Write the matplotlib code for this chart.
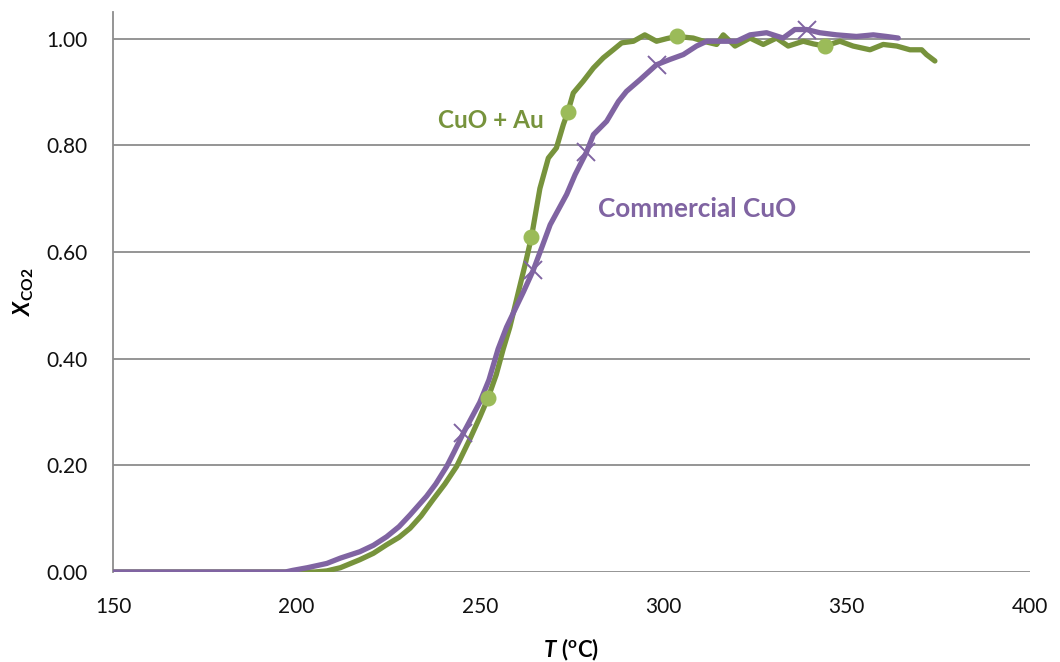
import matplotlib.pyplot as plt
import numpy as np

plt.rcParams['font.family'] = ['Lato', 'DejaVu Sans']
# axis titles are bold throughout, so the mathtext roman face is bold too
plt.rcParams['mathtext.fontset'] = 'custom'
plt.rcParams['mathtext.rm'] = 'Lato:bold'
plt.rcParams['mathtext.bf'] = 'Lato:bold'
plt.rcParams['mathtext.it'] = 'Lato:bold:italic'
plt.rcParams['mathtext.bfit'] = 'Lato:bold:italic'

# CuO + Au light-off curve
au_t = [150, 170, 190, 200, 205, 208.3, 212, 217.3, 221, 224.6, 228, 231, 234, 237.3,
        240.5, 243.7, 247.3, 250, 252.3, 254.5, 256.4, 258.2, 261, 262.5, 264.1, 266.4,
        268.7, 270.9, 272.8, 274, 275.5, 278.2, 281, 283.7, 286.4, 288.7, 291.9, 295,
        298.2, 301, 303.7, 308.2, 311, 314.6, 316.4, 319.6, 323.7, 327.3, 330.9, 334.1,
        338.2, 341, 344.1, 348.2, 351.8, 356.4, 360, 363.7, 367.3, 370.5, 371.8, 374.1]
au_x = [0.0, 0.0, 0.0, 0.0, 0.0, 0.002, 0.008, 0.023, 0.035, 0.051, 0.065, 0.082, 0.105,
        0.136, 0.165, 0.198, 0.249, 0.29, 0.327, 0.37, 0.418, 0.459, 0.538, 0.58, 0.628,
        0.719, 0.776, 0.795, 0.839, 0.862, 0.898, 0.920, 0.945, 0.964, 0.979, 0.992,
        0.995, 1.007, 0.995, 1.0, 1.004, 1.001, 0.995, 0.989, 1.007, 0.986, 1.001, 0.989,
        1.001, 0.986, 0.995, 0.99, 0.986, 0.995, 0.986, 0.979, 0.989, 0.986, 0.979,
        0.979, 0.970, 0.958]

# commercial CuO light-off curve
cu_t = [150, 170, 190, 197, 199, 203, 208.3, 212, 217.3, 221, 224.6, 228, 231, 235.5,
        238, 241, 243, 245.5, 250, 252.5, 255, 257.3, 261.9, 264.6, 267, 269.2, 273.7,
        276, 279.1, 281, 284.6, 287.8, 290, 293.7, 298.2, 301.9, 305.5, 309.1, 311.9,
        316.4, 320, 323.7, 328.2, 332.7, 335.9, 339.1, 342.7, 347.3, 352.7, 357.3, 360.9,
        364.1]
cu_x = [0.0, 0.0, 0.0, 0.0, 0.003, 0.008, 0.016, 0.026, 0.038, 0.05, 0.066, 0.085,
        0.107, 0.142, 0.165, 0.198, 0.225, 0.26, 0.318, 0.36, 0.418, 0.459, 0.525, 0.566,
        0.61, 0.651, 0.708, 0.745, 0.787, 0.820, 0.845, 0.882, 0.901, 0.923, 0.951, 0.961,
        0.970, 0.986, 0.995, 0.995, 0.995, 1.007, 1.011, 1.001, 1.017, 1.017, 1.011,
        1.007, 1.004, 1.007, 1.004, 1.001]

# marker positions on each curve
au_mark_t = [252.3, 264.1, 274.0, 303.7, 344.1]
au_mark_x = [0.327, 0.628, 0.862, 1.004, 0.986]
cu_mark_t = [245.5, 264.6, 279.1, 298.2, 339.1]
cu_mark_x = [0.260, 0.566, 0.787, 0.951, 1.017]

green = '#77933C'
green_light = '#9BBB59'
purple = '#8064A2'

fig = plt.figure(figsize=(10.6, 6.62), dpi=100)
ax = fig.add_axes([0.1066, 0.136, 0.865, 0.846])

ax.plot(au_t, au_x, color=green, lw=3.8, solid_capstyle='round', zorder=3)
ax.plot(cu_t, cu_x, color=purple, lw=3.8, solid_capstyle='round', zorder=4)
ax.plot(au_mark_t, au_mark_x, ls='none', marker='o', ms=10.5, color=green_light,
        mec=green_light, zorder=5)
ax.plot(cu_mark_t, cu_mark_x, ls='none', marker='x', ms=13, mew=1.4,
        color=purple, zorder=5)

ax.text(238.6, 0.846, 'CuO + Au', color=green, fontsize=17.5, fontweight='bold',
        va='center', ha='left')
ax.text(282.2, 0.680, 'Commercial CuO', color=purple, fontsize=18.8,
        fontweight='bold', va='center', ha='left')

ax.set_xlim(150, 400)
ax.set_ylim(0, 1.05)
ax.set_xticks(np.arange(150, 401, 50))
ax.set_yticks(np.arange(0, 1.01, 0.2))
ax.set_yticklabels([f'{v:.2f}' for v in np.arange(0, 1.01, 0.2)])
ax.tick_params(length=0, labelsize=15, colors='#111111')
ax.tick_params(axis='y', pad=18)
ax.tick_params(axis='x', pad=18)
ax.grid(axis='y', color='#8c8c8c', lw=1.3)
ax.set_axisbelow(True)
for side in ['top', 'right', 'bottom']:
    ax.spines[side].set_visible(False)
ax.spines['left'].set_color('#8c8c8c')
ax.spines['left'].set_linewidth(1.3)

ax.set_xlabel(r'$\mathbfit{T}\ \mathrm{(^{o}C)}$', fontsize=16, labelpad=14)
ax.set_ylabel(r'$\mathbfit{X}_{\mathrm{CO2}}$', fontsize=16, labelpad=8)

fig.savefig('out.png', dpi=100)
